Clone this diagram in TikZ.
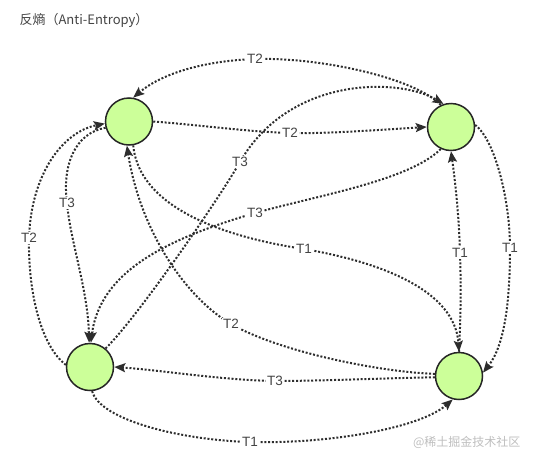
\documentclass[tikz,border=0pt]{standalone}
\usepackage{fontspec}
\setmainfont{Liberation Sans}
\newfontfamily\cjk{Noto Sans CJK SC}
\usetikzlibrary{arrows.meta}
\definecolor{nodefill}{RGB}{204,255,153}
\definecolor{edgecol}{RGB}{45,45,45}
\definecolor{txtcol}{RGB}{68,68,68}
\definecolor{wmcol}{RGB}{190,190,190}
\begin{document}
\begin{tikzpicture}[x=1pt,y=-1pt,
  peer/.style={circle, minimum size=47pt, inner sep=0pt, fill=nodefill, draw=black!85, line width=1.5pt},
  link/.style={draw=edgecol, line width=2pt, dash pattern=on 2pt off 1.8pt, -{Stealth[length=11pt,width=9pt,inset=2pt]}},
  lbl/.style={fill=white, inner sep=1pt, text=txtcol, font=\fontsize{13.5}{13.5}\selectfont}]
\useasboundingbox (0,0) rectangle (535,461);

\node[anchor=west, text=txtcol, font=\cjk\fontsize{13}{15}\selectfont] (title) at (16,20) {反熵（Anti-Entropy）};

\node[peer] (A) at (129,121.5) {};
\node[peer] (B) at (451,127) {};
\node[peer] (C) at (90,367) {};
\node[peer] (D) at (459,376) {};

% B -> A (T2 top)
\draw[link] (B.115) .. controls (415,78) and (320,57) .. (255,59) node[lbl] (l1) {T2}
  .. controls (200,61) and (160,75) .. (A.80);
% A -> B (T2 middle)
\draw[link] (A.east) .. controls (200,125) and (250,132) .. (290,133) node[lbl] (l2) {T2}
  .. controls (330,134) and (390,129) .. (B.west);
% C -> B (T3)
\draw[link] (C.50) .. controls (135,320) and (215,205) .. (240,162) node[lbl] (l3) {T3}
  .. controls (290,75) and (400,78) .. (B.108);
% B -> C (T3)
\draw[link] (B.245) .. controls (410,180) and (320,195) .. (255,213) node[lbl] (l4) {T3}
  .. controls (170,238) and (100,270) .. (C.88);
% A -> C (T3 left)
\draw[link] (A.195) .. controls (75,133) and (62,165) .. (67,203) node[lbl] (l5) {T3}
  .. controls (70,240) and (88,290) .. (C.92);
% C -> A (T2 left)
\draw[link] (C.175) .. controls (40,345) and (28,290) .. (29,238) node[lbl] (l6) {T2}
  .. controls (31,175) and (62,132) .. (A.185);
% D -> A (T2)
\draw[link] (D.175) .. controls (380,372) and (280,352) .. (231,324) node[lbl] (l7) {T2}
  .. controls (185,297) and (140,230) .. (A.265);
% A -> D (T1)
\draw[link] (A.280) .. controls (140,215) and (244,240) .. (304,249) node[lbl] (l8) {T1}
  .. controls (380,262) and (455,290) .. (D.north);
% D -> B (T1 vertical)
\draw[link] (D.north) .. controls (461,310) and (461,285) .. (460,253) node[lbl] (l9) {T1}
  .. controls (459,215) and (455,180) .. (B.south);
% B -> D (T1 right)
\draw[link] (B.5) .. controls (495,140) and (510,200) .. (510,248) node[lbl] (l10) {T1}
  .. controls (510,300) and (505,345) .. (D.8);
% D -> C (T3 bottom)
\draw[link] (D.183) .. controls (390,378) and (320,381) .. (275,381) node[lbl] (l11) {T3}
  .. controls (220,380) and (160,370) .. (C.east);
% C -> D (T1 bottom)
\draw[link] (C.275) .. controls (100,420) and (180,440) .. (250,442) node[lbl] (l12) {T1}
  .. controls (330,444) and (420,428) .. (D.255);

\node[anchor=east, text=wmcol, font=\cjk\fontsize{12}{12}\selectfont] (wm) at (524,442) {@稀土掘金技术社区};
\end{tikzpicture}
\end{document}
